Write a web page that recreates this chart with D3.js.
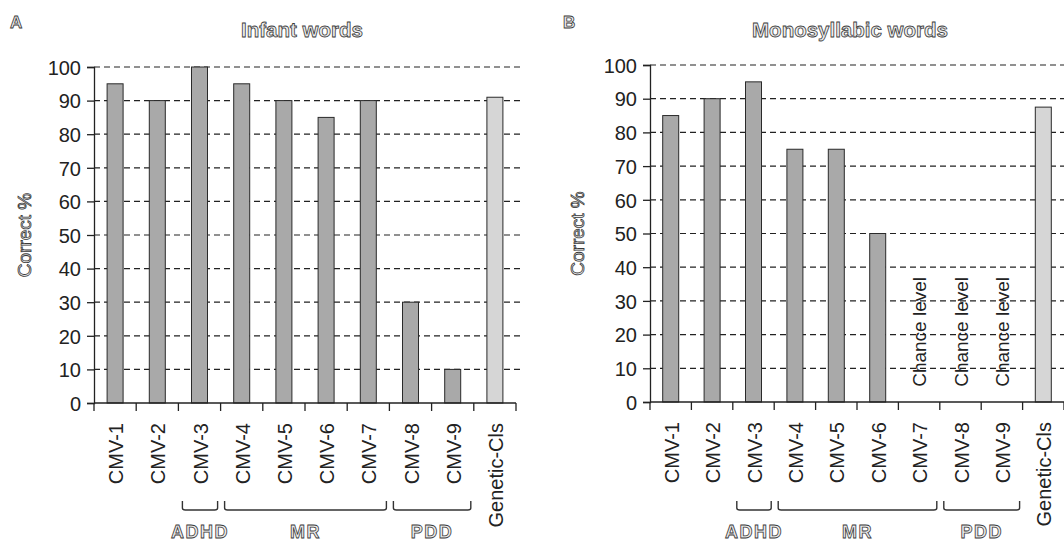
<!DOCTYPE html>
<html>
<head>
<meta charset="utf-8">
<script src="https://cdn.jsdelivr.net/npm/d3@7"></script>
<style>
  body { margin: 0; background: #fff; }
  svg { display: block; font-family: 'Liberation Sans', Arial, sans-serif; }
  .hollow { fill: #ececec; stroke: #3a3a3a; stroke-width: 0.8px; font-weight: bold; }
</style>
</head>
<body>
<svg id="chart" width="1064" height="543"></svg>
<script>
// data ---------------------------------------------------
const categories = ['CMV-1', 'CMV-2', 'CMV-3', 'CMV-4', 'CMV-5', 'CMV-6', 'CMV-7', 'CMV-8', 'CMV-9', 'Genetic-Cls'];
const infantWords = [95, 90, 100, 95, 90, 85, 90, 30, 10, 91];
const monoWords = [85, 90, 95, 75, 75, 50, null, null, null, 87.5];
const yTicks = [0, 10, 20, 30, 40, 50, 60, 70, 80, 90, 100];
const groups = [
    { label: 'ADHD', from: 'CMV-3', to: 'CMV-3' },
    { label: 'MR', from: 'CMV-4', to: 'CMV-7' },
    { label: 'PDD', from: 'CMV-8', to: 'CMV-9' }
];
const chanceText = 'Chance level';

const svg = d3.select('#chart');

function drawPanel(cfg) {
    const g = svg.append('g');
    const x = d3.scaleBand().domain(categories).range(cfg.xRange).padding(0);
    const y = d3.scaleLinear().domain([0, 100]).range(cfg.yRange);
    const bw = x.bandwidth();
    const barW = 16;

    // panel letter + title
    g.append('text').attr('class', 'hollow').attr('x', cfg.letterX).attr('y', 28)
        .style('font-size', '17px').text(cfg.letter);
    g.append('text').attr('class', 'hollow').attr('x', cfg.titleX).attr('y', 37)
        .attr('text-anchor', 'middle').style('font-size', '20.5px').text(cfg.title);

    // dashed grid
    g.append('g').selectAll('line').data(yTicks.filter(d => d > 0)).join('line')
        .attr('x1', cfg.xRange[0]).attr('x2', cfg.gridEnd)
        .attr('y1', d => y(d)).attr('y2', d => y(d))
        .attr('stroke', '#222').attr('stroke-width', 1.2).attr('stroke-dasharray', '6,4');

    // bars
    g.append('g').selectAll('rect').data(categories.map((c, i) => ({ c, v: cfg.values[i] })).filter(d => d.v != null))
        .join('rect')
        .attr('x', d => x(d.c) + bw / 2 - barW / 2)
        .attr('y', d => y(d.v))
        .attr('width', barW)
        .attr('height', d => y(0) - y(d.v))
        .attr('fill', d => d.c === 'Genetic-Cls' ? '#d6d6d6' : '#a9a9a9')
        .attr('stroke', '#2a2a2a').attr('stroke-width', 1);

    // chance level labels
    g.append('g').selectAll('text').data(categories.filter((c, i) => cfg.values[i] == null))
        .join('text')
        .attr('transform', d => 'translate(' + (x(d) + bw / 2 + 7) + ',' + y(4.5) + ') rotate(-90)')
        .style('font-size', '19px').attr('fill', '#222').text(chanceText);

    // y axis
    const yAxis = d3.axisLeft(y).tickValues(yTicks).tickSize(7).tickPadding(6);
    const ya = g.append('g').attr('transform', 'translate(' + cfg.xRange[0] + ',0)').call(yAxis);
    ya.select('.domain').attr('stroke', '#222').attr('stroke-width', 1.3);
    ya.selectAll('.tick line').attr('stroke', '#222').attr('stroke-width', 1.3);
    ya.selectAll('.tick text').style('font-size', '20px').style('font-family', "'Liberation Sans', Arial, sans-serif")
        .attr('fill', '#222').attr('dy', '0.36em');

    g.append('text').attr('class', 'hollow')
        .attr('transform', 'translate(' + cfg.yTitleX + ',' + ((cfg.yRange[0] + cfg.yRange[1]) / 2) + ') rotate(-90)')
        .attr('text-anchor', 'middle').style('font-size', '19px').style('font-weight', 'normal').text('Correct %');

    // x axis: line + ticks at band edges
    const xa = g.append('g');
    xa.append('line').attr('x1', cfg.xRange[0]).attr('x2', cfg.xRange[1])
        .attr('y1', y(0)).attr('y2', y(0)).attr('stroke', '#222').attr('stroke-width', 1.3);
    const edges = categories.map(c => x(c)).concat([cfg.xRange[1]]);
    xa.selectAll('line.tk').data(edges).join('line').attr('class', 'tk')
        .attr('x1', d => d).attr('x2', d => d).attr('y1', y(0)).attr('y2', y(0) + 8)
        .attr('stroke', '#222').attr('stroke-width', 1.3);
    xa.selectAll('text.cat').data(categories).join('text').attr('class', 'cat')
        .attr('transform', d => 'translate(' + (x(d) + bw / 2 + 8) + ',' + (y(0) + 20) + ') rotate(-90)')
        .attr('text-anchor', 'end').style('font-size', '20px').attr('fill', '#222').text(d => d);

    // group brackets
    const bTop = 501, bBot = 510;
    groups.forEach(gr => {
        const x0 = x(gr.from) + 4;
        const x1 = x(gr.to) + bw - 3;
        g.append('path')
            .attr('d', 'M' + x0 + ',' + bTop + ' V' + (bBot - 2) + ' Q' + x0 + ',' + bBot + ' ' + (x0 + 3) + ',' + bBot +
                ' H' + (x1 - 3) + ' Q' + x1 + ',' + bBot + ' ' + x1 + ',' + (bBot - 2) + ' V' + bTop)
            .attr('fill', 'none').attr('stroke', '#333').attr('stroke-width', 1.4);
        g.append('text').attr('class', 'hollow').attr('x', (x0 + x1) / 2).attr('y', 538)
            .attr('text-anchor', 'middle').style('font-size', '18px').style('letter-spacing', '1.5px').text(gr.label);
    });
}

drawPanel({ letter: 'A', letterX: 10, title: 'Infant words', titleX: 302, values: infantWords,
    xRange: [94, 516], yRange: [403, 67], gridEnd: 522, yTitleX: 31 });
drawPanel({ letter: 'B', letterX: 563, title: 'Monosyllabic words', titleX: 850, values: monoWords,
    xRange: [650, 1064], yRange: [402, 65], gridEnd: 1064, yTitleX: 584 });
</script>
</body>
</html>
